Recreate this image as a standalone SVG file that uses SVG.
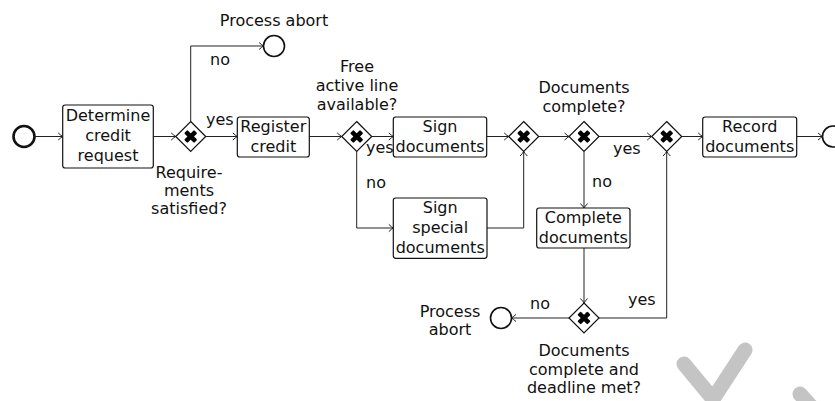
<svg xmlns="http://www.w3.org/2000/svg" xmlns:xlink="http://www.w3.org/1999/xlink" width="835" height="401" viewBox="0 0 835 401">
  <style>
    text { font-family: "DejaVu Sans", "Liberation Sans", sans-serif; font-size: 16px; fill: #111; }
    .c { text-anchor: middle; }
    .task { fill: #fff; stroke: #111; stroke-width: 1.2; }
    .flow { fill: none; stroke: #222; stroke-width: 1; marker-end: url(#arr); }
    .end { fill: #fff; stroke: #111; stroke-width: 1.6; }
    .start { fill: #fff; stroke: #111; stroke-width: 2.6; }
    .mark { fill: none; stroke: #c4c4c4; stroke-width: 15; stroke-linecap: round; stroke-linejoin: round; }
  </style>
  <defs>
    <marker id="arr" viewBox="-6 -5 8 10" refX="0" refY="0" markerWidth="8" markerHeight="10" markerUnits="userSpaceOnUse" orient="auto">
      <path d="M-4.5,-3.6 Q-1.5,-0.8 0,0 Q-1.5,0.8 -4.5,3.6" fill="none" stroke="#222" stroke-width="1"/>
    </marker>
    <!-- exclusive gateway: diamond with a heavy X -->
    <g id="gw">
      <polygon points="0,-15 15,0 0,15 -15,0" fill="#fff" stroke="#111" stroke-width="1.2"/>
      <rect x="-7" y="-2.3" width="14" height="4.6" rx="1" fill="#000" transform="rotate(45)"/>
      <rect x="-7" y="-2.3" width="14" height="4.6" rx="1" fill="#000" transform="rotate(-45)"/>
    </g>
  </defs>

  <!-- connectors -->
  <g id="connectors">
    <path class="flow" d="M34.5,136.5 H62.7"/>
    <path class="flow" d="M153.3,136.5 H175.7"/>
    <path class="flow" d="M190.7,121.5 V46 H263.5"/>
    <path class="flow" d="M205.7,136.5 H237.3"/>
    <path class="flow" d="M309.3,136.5 H341.7"/>
    <path class="flow" d="M371.7,136.5 H393.3"/>
    <path class="flow" d="M356.7,151.5 V228 H393.3"/>
    <path class="flow" d="M486.7,136.5 H508.7"/>
    <path class="flow" d="M487,228 H523.7 V151.5"/>
    <path class="flow" d="M538.7,136.5 H569"/>
    <path class="flow" d="M599,136.5 H651.7"/>
    <path class="flow" d="M584,151.5 V208"/>
    <path class="flow" d="M584,248 V303"/>
    <path class="flow" d="M569,318 H511.5"/>
    <path class="flow" d="M599,318 H666.7 V151.5"/>
    <path class="flow" d="M681.7,136.5 H702.7"/>
    <path class="flow" d="M796.7,136.5 H822.5"/>
    <text x="210" y="65">no</text>
    <text x="206" y="125">yes</text>
    <text x="366" y="153">yes</text>
    <text x="366" y="188">no</text>
    <text x="613" y="154">yes</text>
    <text x="592" y="187">no</text>
    <text x="530" y="309">no</text>
    <text x="628" y="305">yes</text>
  </g>

  <g id="start">
    <circle class="start" cx="24" cy="136.5" r="10.5"/>
  </g>

  <g id="determine">
    <rect class="task" x="62.7" y="105" width="90.6" height="63" rx="2.5"/>
    <text class="c" x="108" y="120.5">Determine</text>
    <text class="c" x="108" y="140.5">credit</text>
    <text class="c" x="108" y="160.5">request</text>
  </g>

  <g id="gw-requirements">
    <use xlink:href="#gw" x="190.7" y="136.5"/>
    <text class="c" x="189" y="178">Require-</text>
    <text class="c" x="189" y="196">ments</text>
    <text class="c" x="189" y="214">satisfied?</text>
  </g>

  <g id="abort-top">
    <circle class="end" cx="274" cy="46" r="10.5"/>
    <text class="c" x="274" y="26">Process abort</text>
  </g>

  <g id="register">
    <rect class="task" x="237.3" y="117" width="72" height="40" rx="2.5"/>
    <text class="c" x="273.3" y="132">Register</text>
    <text class="c" x="273.3" y="152">credit</text>
  </g>

  <g id="gw-line">
    <use xlink:href="#gw" x="356.7" y="136.5"/>
    <text class="c" x="357" y="72">Free</text>
    <text class="c" x="357" y="91">active line</text>
    <text class="c" x="357" y="110">available?</text>
  </g>

  <g id="sign">
    <rect class="task" x="393.3" y="117" width="93.4" height="40" rx="2.5"/>
    <text class="c" x="440" y="132">Sign</text>
    <text class="c" x="440" y="152">documents</text>
  </g>

  <g id="sign-special">
    <rect class="task" x="393.3" y="198" width="93.7" height="60.3" rx="2.5"/>
    <text class="c" x="440.2" y="213">Sign</text>
    <text class="c" x="440.2" y="233">special</text>
    <text class="c" x="440.2" y="253">documents</text>
  </g>

  <g id="gw-join">
    <use xlink:href="#gw" x="523.7" y="136.5"/>
  </g>

  <g id="gw-complete">
    <use xlink:href="#gw" x="584" y="136.5"/>
    <text class="c" x="584" y="93">Documents</text>
    <text class="c" x="584" y="112">complete?</text>
  </g>

  <g id="complete">
    <rect class="task" x="536.7" y="208" width="93.3" height="40" rx="2.5"/>
    <text class="c" x="583.3" y="223">Complete</text>
    <text class="c" x="583.3" y="243">documents</text>
  </g>

  <g id="gw-deadline">
    <use xlink:href="#gw" x="584" y="318"/>
    <text class="c" x="584" y="356">Documents</text>
    <text class="c" x="584" y="374.5">complete and</text>
    <text class="c" x="584" y="393">deadline met?</text>
  </g>

  <g id="abort-bottom">
    <circle class="end" cx="501" cy="318" r="10.5"/>
    <text class="c" x="450" y="317">Process</text>
    <text class="c" x="450" y="335">abort</text>
  </g>

  <g id="gw-merge">
    <use xlink:href="#gw" x="666.7" y="136.5"/>
  </g>

  <g id="record">
    <rect class="task" x="702.7" y="117" width="94" height="40" rx="2.5"/>
    <text class="c" x="749.7" y="132">Record</text>
    <text class="c" x="749.7" y="152">documents</text>
  </g>

  <g id="end">
    <circle class="end" cx="833" cy="136.5" r="10.5"/>
  </g>

  <!-- grey check mark in the lower right corner -->
  <path class="mark" d="M684,364 L713,399 L745,350"/>
  <path class="mark" d="M800,394 L818,414"/>
</svg>
